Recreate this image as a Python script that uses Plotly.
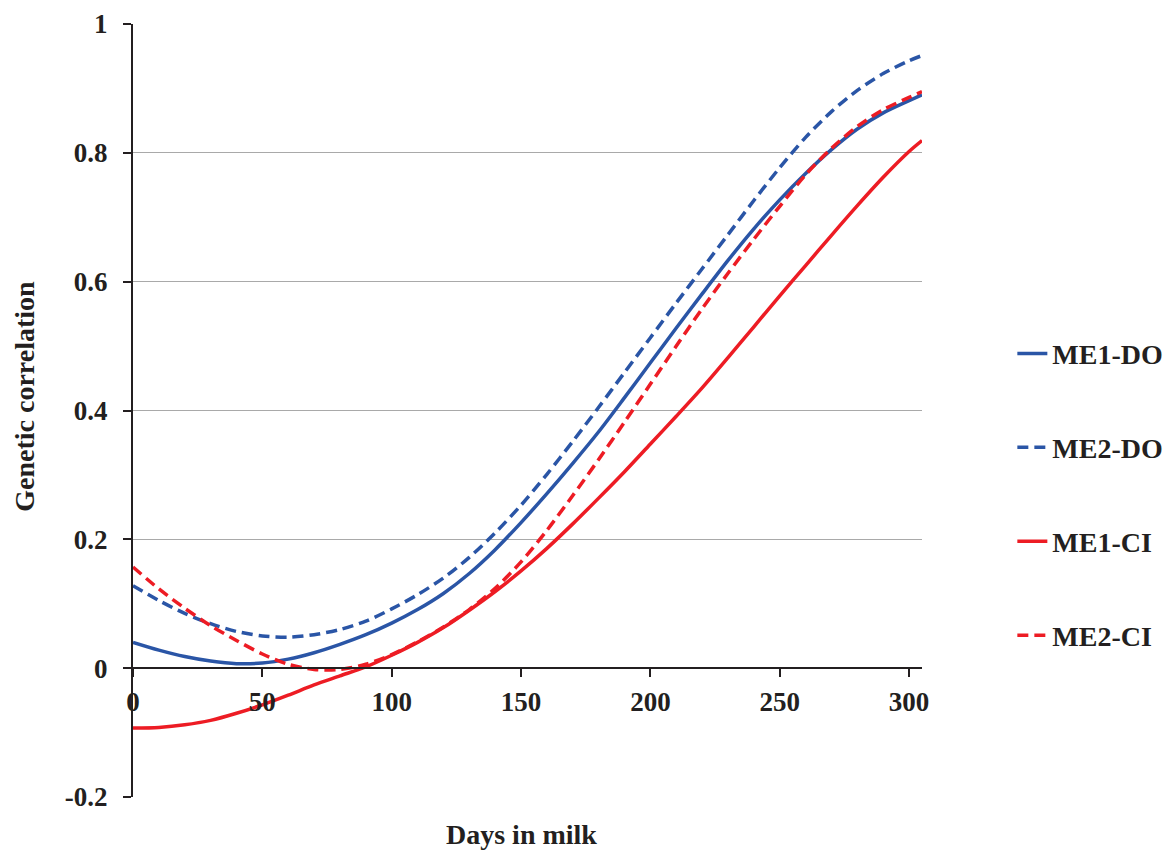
import plotly.graph_objects as go

days = [0, 10, 20, 30, 40, 50, 60, 70, 80, 90, 100, 110, 120, 130, 140, 150,
        160, 170, 180, 190, 200, 210, 220, 230, 240, 250, 260, 270, 280, 290, 300, 305]

me1_do = [0.040, 0.028, 0.018, 0.011, 0.007, 0.008, 0.014, 0.024, 0.037, 0.052, 0.070,
          0.091, 0.116, 0.147, 0.184, 0.226, 0.271, 0.318, 0.367, 0.420, 0.474, 0.528,
          0.581, 0.633, 0.682, 0.727, 0.768, 0.805, 0.837, 0.862, 0.881, 0.890]
me2_do = [0.128, 0.105, 0.085, 0.069, 0.057, 0.050, 0.048, 0.052, 0.060, 0.073, 0.092,
          0.114, 0.140, 0.172, 0.210, 0.253, 0.301, 0.352, 0.405, 0.459, 0.513, 0.567,
          0.620, 0.673, 0.726, 0.777, 0.824, 0.864, 0.897, 0.923, 0.943, 0.951]
me1_ci = [-0.093, -0.092, -0.088, -0.081, -0.070, -0.057, -0.042, -0.026, -0.012, 0.002, 0.020,
          0.040, 0.063, 0.090, 0.119, 0.151, 0.186, 0.224, 0.264, 0.305, 0.348, 0.391,
          0.435, 0.482, 0.530, 0.578, 0.625, 0.672, 0.718, 0.762, 0.802, 0.819]
me2_ci = [0.157, 0.123, 0.093, 0.066, 0.043, 0.022, 0.006, -0.002, -0.002, 0.006, 0.021,
          0.041, 0.064, 0.091, 0.124, 0.165, 0.214, 0.268, 0.324, 0.382, 0.441, 0.500,
          0.558, 0.613, 0.666, 0.717, 0.766, 0.807, 0.841, 0.867, 0.886, 0.895]

series_names = ["ME1-DO", "ME2-DO", "ME1-CI", "ME2-CI"]
y_tickvals = [-0.2, 0, 0.2, 0.4, 0.6, 0.8, 1]
y_ticktext = ["-0.2", "0", "0.2", "0.4", "0.6", "0.8", "1"]
x_tickvals = [0, 50, 100, 150, 200, 250, 300]

BLUE = "#2A55A6"
RED = "#ED1C24"
FONT = "Liberation Serif"
TXT = "#231F20"

fig = go.Figure()
styles = [(me1_do, BLUE, "solid"), (me2_do, BLUE, "11px,6px"),
          (me1_ci, RED, "solid"), (me2_ci, RED, "11px,6px")]
for i, (vals, col, dash) in enumerate(styles):
    fig.add_trace(go.Scatter(
        x=days, y=vals, mode="lines", name=series_names[i],
        legendgroup=series_names[i],
        line=dict(color=col, width=3.5, dash=dash, shape="spline", smoothing=0.8),
    ))

fig.update_layout(
    width=1171, height=853,
    margin=dict(l=133, r=249, t=24, b=56, autoexpand=False),
    plot_bgcolor="white", paper_bgcolor="white",
    font=dict(family=FONT, color=TXT, size=27),
    showlegend=True,
    legend=dict(
        x=1.1145, xanchor="left", y=0.391, yanchor="middle",
        font=dict(family=FONT, size=28, color=TXT, weight="bold"),
        tracegroupgap=54.5, bgcolor="rgba(0,0,0,0)",
    ),
    xaxis=dict(
        range=[0, 305], tickvals=x_tickvals, ticktext=[str(v) for v in x_tickvals],
        showgrid=False, zeroline=False,
        showline=True, linecolor=TXT, linewidth=2.2,
        ticks="outside", ticklen=8, tickwidth=2.2, tickcolor=TXT,
        anchor="free", position=0.2 / 1.2,
        tickfont=dict(family=FONT, size=27, color=TXT, weight="bold"),
        ticklabelstandoff=1,
    ),
    yaxis=dict(
        range=[-0.2, 1], tickvals=y_tickvals, ticktext=y_ticktext,
        showgrid=True, gridcolor="#A9A9A9", gridwidth=1.3, zeroline=False,
        showline=True, linecolor=TXT, linewidth=2.2,
        ticks="outside", ticklen=8, tickwidth=2.2, tickcolor=TXT,
        tickfont=dict(family=FONT, size=27, color=TXT, weight="bold"),
        ticklabelstandoff=10,
    ),
    annotations=[
        dict(text="Days in milk", x=0.492, y=-0.049, xref="paper", yref="paper",
             xanchor="center", yanchor="middle", showarrow=False,
             font=dict(family=FONT, size=28, color=TXT, weight="bold")),
        dict(text="Genetic correlation", x=-0.137, y=0.519, xref="paper", yref="paper",
             xanchor="center", yanchor="middle", textangle=-90, showarrow=False,
             font=dict(family=FONT, size=28, color=TXT, weight="bold")),
    ],
)

fig.write_html("out.html", config={"displayModeBar": False},
               post_script="document.body.style.margin='0';")
